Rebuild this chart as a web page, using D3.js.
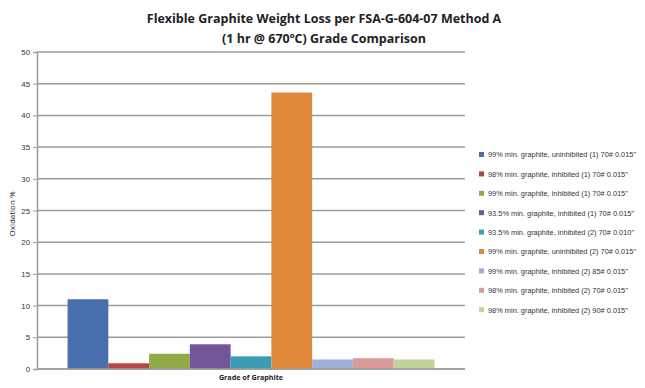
<!DOCTYPE html>
<html>
<head>
<meta charset="utf-8">
<script src="https://cdn.jsdelivr.net/npm/d3@7"></script>
<style>
  body { margin: 0; background: #fff; }
  svg { display: block; }
</style>
</head>
<body>
<div id="chart"></div>
<script>
/* --- Data --- */
const category = "Grade of Graphite";
const grades = [
    "99% min. graphite, uninhibited (1) 70# 0.015\"",
    "98% min. graphite, inhibited (1) 70# 0.015\"",
    "99% min. graphite, inhibited (1) 70# 0.015\"",
    "93.5% min. graphite, inhibited (1) 70# 0.015\"",
    "93.5% min. graphite, inhibited (2) 70# 0.010\"",
    "99% min. graphite, uninhibited (2) 70# 0.015\"",
    "99% min. graphite, inhibited (2) 85# 0.015\"",
    "98% min. graphite, inhibited (2) 70# 0.015\"",
    "98% min. graphite, inhibited (2) 90# 0.015\""
];
const oxidation = [11.0, 0.9, 2.4, 3.9, 2.0, 43.6, 1.5, 1.7, 1.5];
const yTicks = [0, 5, 10, 15, 20, 25, 30, 35, 40, 45, 50];

const palette = ["#4a6fae", "#b94443", "#8fac48", "#75559a", "#3d9db6",
                 "#e0883a", "#9cb0da", "#d99a98", "#bfd39a"];

/* --- Layout --- */
const width = 645, height = 388;
const margin = { top: 52, right: 180, bottom: 19, left: 37 };
const innerW = width - margin.left - margin.right;
const innerH = height - margin.top - margin.bottom;

const svg = d3.select("#chart").append("svg")
    .attr("width", width)
    .attr("height", height);

// Title
const title = svg.append("text")
    .attr("x", 324)
    .attr("text-anchor", "middle")
    .style("font-family", "'Open Sans', sans-serif")
    .style("font-weight", "bold")
    .style("font-size", "12.5px")
    .attr("fill", "#222");
title.append("tspan").attr("x", 324).attr("y", 23)
    .text("Flexible Graphite Weight Loss per FSA-G-604-07 Method A");
title.append("tspan").attr("x", 324).attr("y", 43)
    .text("(1 hr @ 670ºC) Grade Comparison");

const g = svg.append("g")
    .attr("transform", `translate(${margin.left}, ${margin.top})`);

// Scales
const x = d3.scaleBand().domain(grades).range([0, innerW])
    .paddingInner(0).paddingOuter(0.75);
const y = d3.scaleLinear().domain([0, 50]).range([innerH, 0]);

// Gridlines
g.append("g")
    .selectAll("line")
    .data(yTicks)
    .join("line")
    .attr("x1", 0).attr("x2", innerW)
    .attr("y1", d => y(d)).attr("y2", d => y(d))
    .attr("stroke", "#9c9c9c")
    .attr("stroke-width", 1.5);

// Y axis
const yAxis = g.append("g")
    .call(d3.axisLeft(y).tickValues(yTicks).tickSize(4).tickPadding(3));
yAxis.select(".domain").attr("stroke", "#9c9c9c").attr("stroke-width", 1.5);
yAxis.selectAll(".tick line").attr("stroke", "#9c9c9c");
yAxis.selectAll("text")
    .attr("fill", "#333")
    .style("font-family", "'Liberation Sans', Arial, sans-serif")
    .style("font-size", "7.8px");

// Bars
g.append("g")
    .selectAll("rect")
    .data(grades)
    .join("rect")
    .attr("x", d => x(d))
    .attr("width", x.bandwidth())
    .attr("y", (d, i) => y(oxidation[i]))
    .attr("height", (d, i) => y(0) - y(oxidation[i]))
    .attr("fill", (d, i) => palette[i]);

// X axis baseline
g.append("line")
    .attr("x1", 0).attr("x2", innerW)
    .attr("y1", y(0)).attr("y2", y(0))
    .attr("stroke", "#9c9c9c")
    .attr("stroke-width", 1.5);

// Axis titles
g.append("text")
    .attr("x", innerW / 2)
    .attr("y", innerH + 11)
    .attr("text-anchor", "middle")
    .style("font-family", "'Open Sans', sans-serif")
    .style("font-weight", "bold")
    .style("font-size", "7.2px")
    .attr("fill", "#222")
    .text(category);

svg.append("text")
    .attr("transform", "translate(15, 214) rotate(-90)")
    .attr("text-anchor", "middle")
    .style("font-family", "'Open Sans', sans-serif")
    .style("font-size", "8px")
    .attr("fill", "#222")
    .text("Oxidation %");

// Legend
const legend = svg.append("g")
    .attr("transform", "translate(479, 155)");
const rows = legend.selectAll("g")
    .data(grades)
    .join("g")
    .attr("transform", (d, i) => `translate(0, ${i * 19.4})`);
rows.append("rect")
    .attr("x", 0).attr("y", -3)
    .attr("width", 5).attr("height", 5)
    .attr("fill", (d, i) => palette[i]);
rows.append("text")
    .attr("x", 9).attr("y", 0)
    .attr("dy", "0.33em")
    .style("font-family", "'Liberation Sans', Arial, sans-serif")
    .style("font-size", "7.4px")
    .attr("fill", "#333")
    .text(d => d);
</script>
</body>
</html>
